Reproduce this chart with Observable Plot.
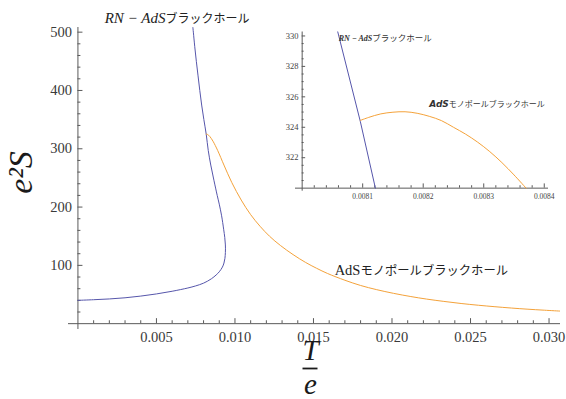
<!DOCTYPE html>
<html><head><meta charset="utf-8">
<script src="https://cdn.jsdelivr.net/npm/d3@7"></script>
<script src="https://cdn.jsdelivr.net/npm/@observablehq/plot@0.6"></script>
<style>
body{margin:0;background:#fff;}
#wrap{position:relative;width:566px;height:399px;overflow:hidden;background:#fff;}
#wrap svg{position:absolute;}
</style></head><body><div id="wrap"></div>
<script>
// ---------- data ----------
// RN-AdS black hole, main plot (T/e, e^2 S), in path order
const rnT = [0, 0.001, 0.002, 0.003, 0.004, 0.005, 0.006, 0.007, 0.0075, 0.008, 0.0085, 0.0088, 0.009, 0.0092, 0.0093, 0.00936, 0.00939, 0.00939, 0.00935, 0.00928, 0.00915, 0.009, 0.00887, 0.00866, 0.00846, 0.0083, 0.00817, 0.00802, 0.00788, 0.00776, 0.00765, 0.00754, 0.00744, 0.00735, 0.00732];
const rnS = [40, 41.1, 42.4, 44.4, 47.3, 51.0, 55.6, 61.2, 64.8, 69.5, 77, 83.5, 89, 97, 104, 112, 122, 135, 148, 162, 185, 205, 220, 246, 272, 297, 325, 350, 375, 400, 425, 450, 475, 500, 508];
// AdS monopole black hole, main plot
const monoT = [0.00817, 0.00825, 0.0084, 0.0086, 0.0089, 0.0093, 0.0098, 0.0104, 0.011, 0.0116, 0.0122, 0.0129, 0.0137, 0.0145, 0.0152, 0.0159, 0.017, 0.018, 0.019, 0.0201, 0.0212, 0.0222, 0.0233, 0.0244, 0.0255, 0.0265, 0.0276, 0.0286, 0.0297, 0.0307];
const monoS = [325, 324.6, 321, 313, 297, 272, 242, 212, 187, 167, 150, 134, 118.5, 105, 95, 86, 74.5, 65.5, 58.5, 52, 46.5, 42.2, 38.2, 34.6, 31.6, 29.2, 26.8, 24.9, 23.1, 21.6];
// inset (zoom near the crossing)
const insetRnT = [0.008058, 0.008096, 0.008121];
const insetRnS = [330.4, 324.4, 320.0];
const insetMonoT = [0.008096, 0.00811, 0.00813, 0.00815, 0.00817, 0.00819, 0.00821, 0.00823, 0.00825, 0.00827, 0.00829, 0.00831, 0.00833, 0.00835, 0.00837];
const insetMonoS = [324.45, 324.65, 324.88, 324.99, 325.02, 324.92, 324.72, 324.44, 324.0, 323.55, 323.02, 322.4, 321.68, 320.87, 320.0];

// ticks
const xMajor = [0.005, 0.010, 0.015, 0.020, 0.025, 0.030];
const xLabels = ["0.005", "0.010", "0.015", "0.020", "0.025", "0.030"];
const yMajor = [100, 200, 300, 400, 500];
const yLabels = ["100", "200", "300", "400", "500"];
const insetXMajor = [0.0081, 0.0082, 0.0083, 0.0084];
const insetXLabels = ["0.0081", "0.0082", "0.0083", "0.0084"];
const insetYMajor = [322, 324, 326, 328, 330];
const insetYLabels = ["322", "324", "326", "328", "330"];

// labels
const seriesNames = ["RN − AdS", "ブラックホール", "AdS", "モノポールブラックホール"];
const axisNames = ["e²S", "T", "e"];

// ---------- drawing ----------
const blue = "#5656ab", orange = "#f4a23a";
const axisColor = "#5a5a5a", tickText = "#3a3a3a";
const serif = "Liberation Serif", jp = "Noto Sans CJK JP";

const rn = rnT.map((t, i) => ({T: t, S: rnS[i]}));
const mono = monoT.map((t, i) => ({T: t, S: monoS[i]}));
const irn = insetRnT.map((t, i) => ({T: t, S: insetRnS[i]}));
const imono = insetMonoT.map((t, i) => ({T: t, S: insetMonoS[i]}));

const xMinor = d3.range(1, 31).map(k => k / 1000).filter(v => Math.round(v * 1000) % 5 !== 0);
const yMinor = d3.range(20, 501, 20).filter(v => v % 100 !== 0);

// annotation anchors in data coordinates
const lab1 = {T: 0.00557, S: 515.5};
const lab2 = {T: 0.01799, S: 82.8};

const W = 566, H = 399, mL = 68, mR = 6, mT = 27, mB = 70;
const main = Plot.plot({
  width: W, height: H,
  marginLeft: mL, marginRight: mR, marginTop: mT, marginBottom: mB,
  x: {domain: [-0.0006, 0.03073], axis: null},
  y: {domain: [-10, 508], axis: null},
  style: {background: "transparent", overflow: "visible"},
  marks: [
    Plot.ruleY([0], {stroke: axisColor, strokeWidth: 1}),
    Plot.ruleX([0], {stroke: axisColor, strokeWidth: 1}),
    Plot.ruleX(xMajor, {x: d => d, y1: 0, y2: 8.6, stroke: axisColor}),
    Plot.ruleX(xMinor, {x: d => d, y1: 0, y2: 5, stroke: axisColor}),
    Plot.ruleY(yMajor, {y: d => d, x1: 0, x2: 0.00032, stroke: axisColor}),
    Plot.ruleY(yMinor, {y: d => d, x1: 0, x2: 0.00019, stroke: axisColor}),
    Plot.text(xMajor, {x: d => d, y: 0, text: (d, i) => xLabels[i], dy: 18.5, lineAnchor: "bottom", fontFamily: serif, fontSize: 14.5, fill: tickText}),
    Plot.text(yMajor, {x: 0, y: d => d, text: (d, i) => yLabels[i], dx: -6, textAnchor: "end", lineAnchor: "middle", fontFamily: serif, fontSize: 14.5, fill: tickText}),
    Plot.line(rn, {x: "T", y: "S", stroke: blue, strokeWidth: 1, curve: "catmull-rom", clip: true}),
    Plot.line(mono, {x: "T", y: "S", stroke: orange, strokeWidth: 1, curve: "catmull-rom", clip: true}),
    Plot.text([lab1], {x: "T", y: "S", text: () => seriesNames[0], textAnchor: "end", lineAnchor: "bottom", fontFamily: serif, fontStyle: "italic", fontSize: 15, fill: "#222"}),
    Plot.text([lab1], {x: "T", y: "S", text: () => seriesNames[1], textAnchor: "start", lineAnchor: "bottom", fontFamily: jp, fontSize: 12, fill: "#222"}),
    Plot.text([lab2], {x: "T", y: "S", text: () => seriesNames[2], textAnchor: "end", lineAnchor: "bottom", fontFamily: serif, fontSize: 14.5, fill: "#222"}),
    Plot.text([lab2], {x: "T", y: "S", text: () => seriesNames[3], textAnchor: "start", lineAnchor: "bottom", fontFamily: jp, fontSize: 12.3, fill: "#222"}),
    Plot.text([axisNames[0]], {frameAnchor: "left", textAnchor: "middle", lineAnchor: "middle", rotate: -90, dx: -47, dy: -6, fontFamily: serif, fontStyle: "italic", fontSize: 34, fill: "#1a1a1a"}),
    Plot.text([axisNames[1]], {frameAnchor: "bottom", textAnchor: "middle", dx: -4, dy: 30, lineAnchor: "bottom", fontFamily: serif, fontStyle: "italic", fontSize: 29, fill: "#1a1a1a"}),
    Plot.text([axisNames[2]], {frameAnchor: "bottom", textAnchor: "middle", dx: -4, dy: 64, lineAnchor: "bottom", fontFamily: serif, fontStyle: "italic", fontSize: 29, fill: "#1a1a1a"})
  ]
});
main.style.left = "0px"; main.style.top = "0px";
// fraction bar of T/e, centred under the T label
const fracX = mL + (W - mL - mR) / 2 - 4;
d3.select(main).append("line")
  .attr("x1", fracX - 7.5).attr("x2", fracX + 7.5)
  .attr("y1", H - mB + 39.5).attr("y2", H - mB + 39.5)
  .attr("stroke", "#1a1a1a").attr("stroke-width", 1.8);

// inset
const ixMinor = d3.range(0, 21).map(k => 0.008 + k * 0.00002).filter((v, k) => k % 5 !== 0);
const iyMinor = d3.range(320.5, 330.1, 0.5).filter(v => Math.abs(v - Math.round(v / 2) * 2) > 0.01);
const ilab1 = {T: 0.0081157, S: 329.7};
const ilab2 = {T: 0.0082423, S: 325.32};

const inset = Plot.plot({
  width: 300, height: 190,
  marginLeft: 35, marginRight: 12, marginTop: 11.5, marginBottom: 19.3,
  x: {domain: [0.007989, 0.008407], axis: null},
  y: {domain: [319.8, 330.26], axis: null},
  style: {background: "transparent", overflow: "visible"},
  marks: [
    Plot.ruleY([320], {stroke: axisColor}),
    Plot.ruleX([0.008], {stroke: axisColor}),
    Plot.ruleX(insetXMajor, {x: d => d, y1: 320, y2: 320.28, stroke: axisColor}),
    Plot.ruleX(ixMinor, {x: d => d, y1: 320, y2: 320.16, stroke: axisColor}),
    Plot.ruleY(insetYMajor, {y: d => d, x1: 0.008, x2: 0.0080058, stroke: axisColor}),
    Plot.ruleY(iyMinor, {y: d => d, x1: 0.008, x2: 0.0080033, stroke: axisColor}),
    Plot.text(insetXMajor, {x: d => d, y: 320, text: (d, i) => insetXLabels[i], dy: 10.5, lineAnchor: "bottom", fontFamily: serif, fontSize: 7.5, fill: "#444"}),
    Plot.text(insetYMajor, {x: 0.008, y: d => d, text: (d, i) => insetYLabels[i], dx: -3.7, textAnchor: "end", lineAnchor: "middle", fontFamily: serif, fontSize: 8.5, fill: "#444"}),
    Plot.line(irn, {x: "T", y: "S", stroke: blue, strokeWidth: 1, clip: true}),
    Plot.line(imono, {x: "T", y: "S", stroke: orange, strokeWidth: 1, curve: "catmull-rom", clip: true}),
    Plot.text([ilab1], {x: "T", y: "S", text: () => seriesNames[0], textAnchor: "end", lineAnchor: "bottom", fontFamily: serif, fontStyle: "italic", fontWeight: "bold", fontSize: 8, fill: "#333"}),
    Plot.text([ilab1], {x: "T", y: "S", text: () => seriesNames[1], textAnchor: "start", lineAnchor: "bottom", fontFamily: jp, fontSize: 8.5, fill: "#333"}),
    Plot.text([ilab2], {x: "T", y: "S", text: () => seriesNames[2], textAnchor: "end", lineAnchor: "bottom", fontFamily: "DejaVu Sans", fontStyle: "italic", fontWeight: "bold", fontSize: 9, fill: "#333"}),
    Plot.text([ilab2], {x: "T", y: "S", text: () => seriesNames[3], textAnchor: "start", lineAnchor: "bottom", fontFamily: jp, fontSize: 8, fill: "#333"})
  ]
});
inset.style.left = "260px"; inset.style.top = "20px";

const wrap = document.getElementById("wrap");
wrap.appendChild(main);
wrap.appendChild(inset);
</script>
</body></html>
